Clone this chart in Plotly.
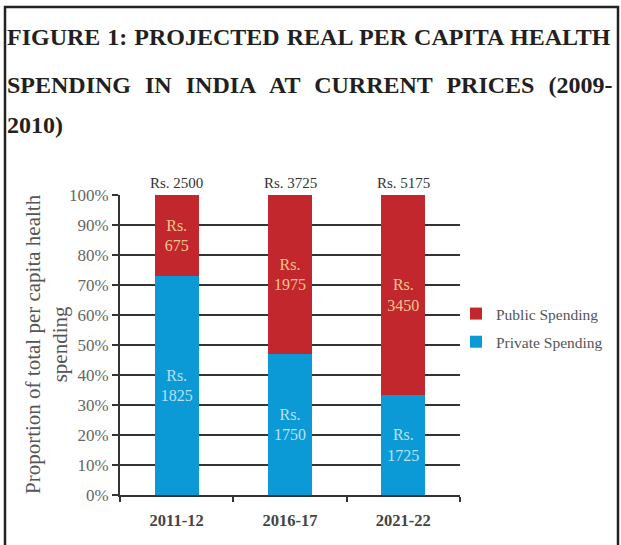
import plotly.graph_objects as go

# ---- data ----
periods = ["2011-12", "2016-17", "2021-22"]
private_spending = [1825, 1750, 1725]   # Rs. per capita
public_spending = [675, 1975, 3450]     # Rs. per capita
total_spending = [2500, 3725, 5175]     # Rs. per capita
y_ticks = [0, 10, 20, 30, 40, 50, 60, 70, 80, 90, 100]

title_lines = [
    "FIGURE 1: PROJECTED REAL PER CAPITA HEALTH",
    "SPENDING IN INDIA AT CURRENT PRICES (2009-",
    "2010)",
]


def justify(line, extra_px):
    # widen each word gap by a small non-breaking space of the given pixel width
    pad = '<span style="font-size:%dpx">&nbsp;</span>' % (extra_px * 4)
    return (" " + pad).join(line.split(" "))


title_html = [justify(title_lines[0], 1), justify(title_lines[1], 8), title_lines[2]]

# ---- layout geometry (pixels) ----
W, H = 621, 545
L, R, T, B = 120, 460, 195, 495


def px2x(px):
    return (px - L) / (R - L)


def py2y(py):
    return (B - py) / (B - T)


RED = "#c1272d"
BLUE = "#0c9ad6"
SERIF = "Liberation Serif, DejaVu Serif, serif"

fig = go.Figure()
fig.add_trace(go.Bar(
    x=periods, y=private_spending, name="Private Spending",
    legendgroup="private", legendrank=2,
    marker=dict(color=BLUE, line=dict(width=0)),
    text=["Rs.<br>%d" % v for v in private_spending],
    textposition="inside", insidetextanchor="middle", textangle=0,
    textfont=dict(family=SERIF, size=16, color="#b6e2f6"),
    hoverinfo="skip",
))
fig.add_trace(go.Bar(
    x=periods, y=public_spending, name="Public Spending",
    legendgroup="public", legendrank=1,
    marker=dict(color=RED, line=dict(width=0)),
    text=["Rs.<br>%d" % v for v in public_spending],
    textposition="inside", insidetextanchor="middle", textangle=0,
    textfont=dict(family=SERIF, size=16, color="#f7c58f"),
    hoverinfo="skip",
))

annotations = []
# totals above bars
for p, t in zip(periods, total_spending):
    annotations.append(dict(
        x=p, y=1.0, xref="x", yref="paper", yshift=12, text="Rs. %d" % t,
        showarrow=False, xanchor="center", yanchor="middle",
        font=dict(family=SERIF, size=15, color="#333333"),
    ))
# title lines
for line, ypx in zip(title_html, [37, 82, 125]):
    annotations.append(dict(
        x=px2x(5), y=py2y(ypx), xref="paper", yref="paper", text="<b>%s</b>" % line,
        showarrow=False, xanchor="left", yanchor="middle",
        font=dict(family=SERIF, size=24, color="#231f20"),
    ))
# y-axis title
annotations.append(dict(
    x=px2x(46), y=py2y(344), xref="paper", yref="paper",
    text="Proportion of total per capita health<br>spending",
    textangle=-90, showarrow=False, xanchor="center", yanchor="middle",
    font=dict(family=SERIF, size=21, color="#555555"),
))

fig.update_layout(
    width=W, height=H,
    margin=dict(l=L, r=W - R, t=T, b=H - B, pad=0),
    paper_bgcolor="white", plot_bgcolor="white",
    barmode="stack", barnorm="percent", bargap=0.61,
    showlegend=True,
    legend=dict(
        x=px2x(456), y=py2y(297), xanchor="left", yanchor="top",
        traceorder="grouped", tracegroupgap=5,
        font=dict(family=SERIF, size=15.5, color="#555555"),
        bgcolor="rgba(0,0,0,0)", itemwidth=30,
    ),
    annotations=annotations,
    shapes=[dict(
        type="rect", xref="paper", yref="paper",
        x0=px2x(5), x1=px2x(618), y0=py2y(560), y1=py2y(7),
        line=dict(color="#222222", width=2.5), layer="above",
    )],
    xaxis=dict(
        type="category", showgrid=False, showline=True, linecolor="#333333", linewidth=2,
        ticks="outside", tickson="boundaries", ticklen=5, tickwidth=2, tickcolor="#333333",
        tickfont=dict(family=SERIF, size=16.5, color="#444444", weight="bold"),
        ticklabelstandoff=9,
        fixedrange=True,
    ),
    yaxis=dict(
        range=[0, 100], tickvals=y_ticks, ticktext=["%d%%" % v for v in y_ticks],
        showgrid=True, gridcolor="#333333", gridwidth=2,
        showline=True, linecolor="#333333", linewidth=2,
        ticks="outside", ticklen=6, tickwidth=2, tickcolor="#333333",
        tickfont=dict(family=SERIF, size=17, color="#666666"),
        zeroline=False, fixedrange=True,
    ),
)

fig.write_html(
    "out.html",
    config={"displayModeBar": False},
    post_script="document.body.style.margin='0';document.body.style.overflow='hidden';",
)
